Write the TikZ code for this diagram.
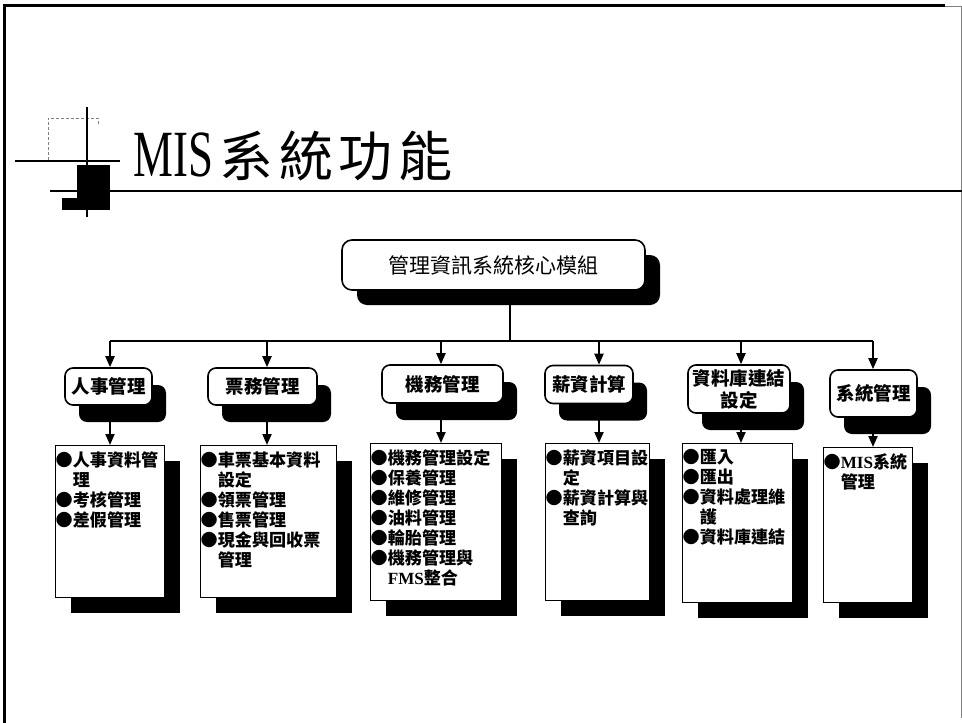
\documentclass[tikz,border=0pt]{standalone}
\usepackage{fontspec}
\usepackage{graphicx}
\newfontfamily\cjk{Noto Sans CJK TC}
\newfontfamily\latinserif{Liberation Serif}
\usetikzlibrary{arrows.meta,shadows}
\newcommand{\ind}{\phantom{●}}
\begin{document}
\begin{tikzpicture}[x=1pt,y=-1pt,
  frame/.style={line width=3pt,black},
  arr/.style={line width=2pt,-{Triangle[length=11pt,width=9pt]}},
  busline/.style={line width=2pt},
  corebox/.style={draw,line width=1.6pt,rounded corners=10pt,fill=white,
     minimum width=303pt,minimum height=50pt,inner sep=0pt,
     font=\cjk\fontsize{21}{24}\selectfont,
     drop shadow={shadow xshift=15pt,shadow yshift=-15pt,fill=black,opacity=1}},
  modbox/.style={draw,line width=1.6pt,rounded corners=8pt,fill=white,
     inner sep=0pt,align=center,
     font=\cjk\bfseries\fontsize{18.5}{22}\selectfont,
     drop shadow={shadow xshift=14pt,shadow yshift=-17pt,fill=black,opacity=1}},
  listbox/.style={draw,line width=1.4pt,fill=white,inner sep=0pt,anchor=north west,
     font=\cjk\bfseries\fontsize{17.1}{20}\selectfont,
     drop shadow={shadow xshift=15pt,shadow yshift=-15pt,fill=black,opacity=1}}
]
\useasboundingbox (0,0) rectangle (962,723);
\fill[white] (0,0) rectangle (962,723);
% frame
\draw[frame] (4,723) -- (4,5) -- (945,5);
\draw[line width=1pt,gray] (945,6) -- (961,6) -- (961,718);
% title decoration
\draw[gray,line width=0.8pt,dash pattern=on 3pt off 2pt] (48,160) -- (48,118) -- (98,118) -- (98,125);
\draw[line width=1.2pt] (87,107) -- (87,217);
\draw[line width=1.2pt] (15,161) -- (120,161);
\fill (77,165) rectangle (110,210);
\fill (62,198) rectangle (110,210);
\draw[line width=2pt] (50,191) -- (962,191);
\node[anchor=base west,inner sep=0pt] (title) at (133,176)
  {{\latinserif\fontsize{66}{66}\selectfont\scalebox{0.68}[1]{MIS}}\hspace{6pt}{\cjk\fontsize{54}{54}\selectfont 系\hspace{6pt}統\hspace{6pt}功\hspace{6pt}能}};
% core
\node[corebox] (core) at (493.5,265) {管理資訊系統核心模組};
% bus coordinates
\coordinate (bc) at (510,341);
\coordinate (b1) at (110,341);
\coordinate (b2) at (267,341);
\coordinate (b3) at (441,341);
\coordinate (b4) at (599,341);
\coordinate (b5) at (741,341);
\coordinate (b6) at (873,341);
% modules
\node[modbox,minimum width=87pt,minimum height=37pt] (m1) at (108.5,386.5) {人事管理};
\node[modbox,minimum width=109pt,minimum height=37pt] (m2) at (262.5,386.5) {票務管理};
\node[modbox,minimum width=121pt,minimum height=38pt] (m3) at (442.5,384) {機務管理};
\node[modbox,minimum width=88pt,minimum height=38pt] (m4) at (589,384.5) {薪資計算};
\node[modbox,minimum width=102pt,minimum height=48pt] (m5) at (739,389) {資料庫連結\\設定};
\node[modbox,minimum width=87pt,minimum height=47pt] (m6) at (873.5,393.5) {系統管理};
% lists
\node[listbox] (l1) at (55,445) {\parbox[t][152pt][t]{109pt}{\vspace*{6pt}●人事資料管\\\ind 理\\●考核管理\\●差假管理}};
\node[listbox] (l2) at (200,445) {\parbox[t][152pt][t]{136pt}{\vspace*{6pt}●車票基本資料\\\ind 設定\\●領票管理\\●售票管理\\●現金與回收票\\\ind 管理}};
\node[listbox] (l3) at (370,443) {\parbox[t][157pt][t]{131pt}{\vspace*{6pt}●機務管理設定\\●保養管理\\●維修管理\\●油料管理\\●輪胎管理\\●機務管理與\\\ind{\latinserif FMS}整合}};
\node[listbox] (l4) at (545,443) {\parbox[t][157pt][t]{104pt}{\vspace*{6pt}●薪資項目設\\\ind 定\\●薪資計算與\\\ind 查詢}};
\node[listbox] (l5) at (682,443) {\parbox[t][159pt][t]{110pt}{\vspace*{6pt}●匯入\\●匯出\\●資料處理維\\\ind 護\\●資料庫連結}};
\node[listbox] (l6) at (823,447) {\parbox[t][155pt][t]{89pt}{\vspace*{6pt}●{\latinserif MIS}系統\\\ind 管理}};
% connectors
\draw[busline] (core.south -| bc) -- (bc);
\draw[busline] (b1) -- (b6);
\foreach \i in {1,...,6}{
  \draw[arr] (b\i) -- (m\i.north -| b\i);
  \draw[arr] (m\i.south -| b\i) -- (l\i.north -| b\i);
}
\end{tikzpicture}
\end{document}
